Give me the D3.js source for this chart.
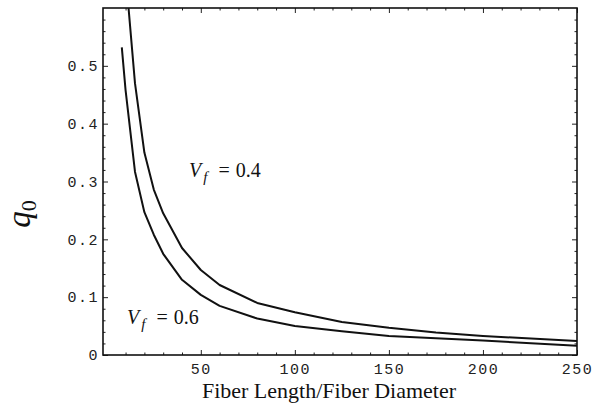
<!DOCTYPE html>
<html lang="en">
<head>
<meta charset="utf-8">
<script src="https://cdn.jsdelivr.net/npm/d3@7"></script>
<style>
  body { margin: 0; background: #fff; }
  svg { display: block; }
  .tickLabels text { font-family: "Liberation Mono", "DejaVu Sans Mono", monospace; font-size: 15px; letter-spacing: 1.5px; fill: #222; }
</style>
</head>
<body>
<div id="chart"></div>
<script>
// values
const lengthRatio = [8, 10, 15, 20, 25, 30, 40, 50, 60, 80, 100, 125, 150, 175, 200, 250];
const q0Vf04 = [null, 0.66, 0.47, 0.35, 0.286, 0.245, 0.185, 0.147, 0.121, 0.090, 0.074, 0.057, 0.047, 0.039, 0.033, 0.024];
const q0Vf06 = [0.532, 0.458, 0.317, 0.247, 0.208, 0.175, 0.130, 0.104, 0.085, 0.063, 0.050, 0.041, 0.033, 0.029, 0.025, 0.016];
const xTicks = [50, 100, 150, 200, 250];
const yTicks = [0, 0.1, 0.2, 0.3, 0.4, 0.5];

const W = 594, H = 411;
const plotLeft = 103, plotRight = 577, plotTop = 8, plotBottom = 355;

const svg = d3.select("#chart").append("svg")
    .attr("width", W).attr("height", H);

const x = d3.scaleLinear().domain([-2, 250]).range([plotLeft, plotRight]);
const y = d3.scaleLinear().domain([0, 0.6]).range([plotBottom, plotTop]);

const xMinor = d3.range(0, 251, 10).filter(v => v % 50 !== 0);
const yMinor = d3.range(0, 0.6, 0.02).filter(v => Math.round(v * 100) % 10 !== 0);

// clip for the curves
svg.append("clipPath").attr("id", "plotClip")
  .append("rect")
    .attr("x", plotLeft).attr("y", plotTop)
    .attr("width", plotRight - plotLeft).attr("height", plotBottom - plotTop);

// major ticks with labels (ticks point inward)
svg.append("g").attr("class", "tickLabels")
    .attr("transform", "translate(" + plotLeft + ",0)")
    .call(d3.axisLeft(y).tickValues(yTicks).tickSize(-5).tickPadding(4)
        .tickFormat(d => d === 0 ? "0" : d3.format(".1f")(d)));

svg.append("g").attr("class", "tickLabels")
    .attr("transform", "translate(0," + plotBottom + ")")
    .call(d3.axisBottom(x).tickValues(xTicks).tickSize(-5).tickPadding(8));

// mirrored ticks on top and right
svg.append("g").attr("transform", "translate(" + plotRight + ",0)")
    .call(d3.axisRight(y).tickValues(yTicks).tickSize(-5).tickFormat(""));
svg.append("g").attr("transform", "translate(0," + plotTop + ")")
    .call(d3.axisTop(x).tickValues(xTicks).tickSize(-5).tickFormat(""));

// minor ticks
svg.append("g").attr("transform", "translate(" + plotLeft + ",0)")
    .call(d3.axisLeft(y).tickValues(yMinor).tickSize(-2.5).tickFormat(""));
svg.append("g").attr("transform", "translate(" + plotRight + ",0)")
    .call(d3.axisRight(y).tickValues(yMinor).tickSize(-2.5).tickFormat(""));
svg.append("g").attr("transform", "translate(0," + plotBottom + ")")
    .call(d3.axisBottom(x).tickValues(xMinor).tickSize(-2.5).tickFormat(""));
svg.append("g").attr("transform", "translate(0," + plotTop + ")")
    .call(d3.axisTop(x).tickValues(xMinor).tickSize(-2.5).tickFormat(""));

svg.selectAll(".domain").remove();
svg.selectAll(".tick line").attr("stroke", "#222").attr("stroke-width", 1);

// frame
svg.append("rect")
    .attr("x", plotLeft).attr("y", plotTop)
    .attr("width", plotRight - plotLeft).attr("height", plotBottom - plotTop)
    .attr("fill", "none").attr("stroke", "#111").attr("stroke-width", 1.6);

// curves
const line = d3.line()
    .defined(d => d[1] !== null)
    .x(d => x(d[0]))
    .y(d => y(d[1]));

[q0Vf04, q0Vf06].forEach(vals => {
  svg.append("path")
      .datum(lengthRatio.map((r, i) => [r, vals[i]]))
      .attr("clip-path", "url(#plotClip)")
      .attr("fill", "none")
      .attr("stroke", "#111")
      .attr("stroke-width", 2)
      .attr("stroke-linejoin", "round")
      .attr("d", line);
});

// curve labels
function vfLabel(px, py, value) {
  const t = svg.append("text")
      .attr("x", px).attr("y", py)
      .style("font-family", "'Liberation Serif', 'DejaVu Serif', serif")
      .style("font-size", "20px")
      .attr("fill", "#111");
  t.append("tspan").style("font-style", "italic").text("V");
  t.append("tspan").style("font-style", "italic").style("font-size", "15px")
      .attr("dx", 2).attr("dy", 5).text("f");
  t.append("tspan").attr("dx", 11).attr("dy", -5).text("=");
  t.append("tspan").attr("dx", 6).text(value);
}
vfLabel(189, 177, "0.4");
vfLabel(127, 324, "0.6");

// axis titles
svg.append("text")
    .attr("x", 329).attr("y", 398)
    .attr("text-anchor", "middle")
    .style("font-family", "'Liberation Serif', 'DejaVu Serif', serif")
    .style("font-size", "22px")
    .attr("fill", "#111")
    .text("Fiber Length/Fiber Diameter");

const yt = svg.append("text")
    .attr("transform", "translate(30,214) rotate(-90)")
    .attr("text-anchor", "middle")
    .style("font-family", "'Liberation Serif', 'DejaVu Serif', serif")
    .style("font-size", "33px")
    .attr("fill", "#111");
yt.append("tspan").style("font-style", "italic").text("q");
yt.append("tspan").style("font-size", "22px").attr("dy", 6).text("0");
</script>
</body>
</html>
